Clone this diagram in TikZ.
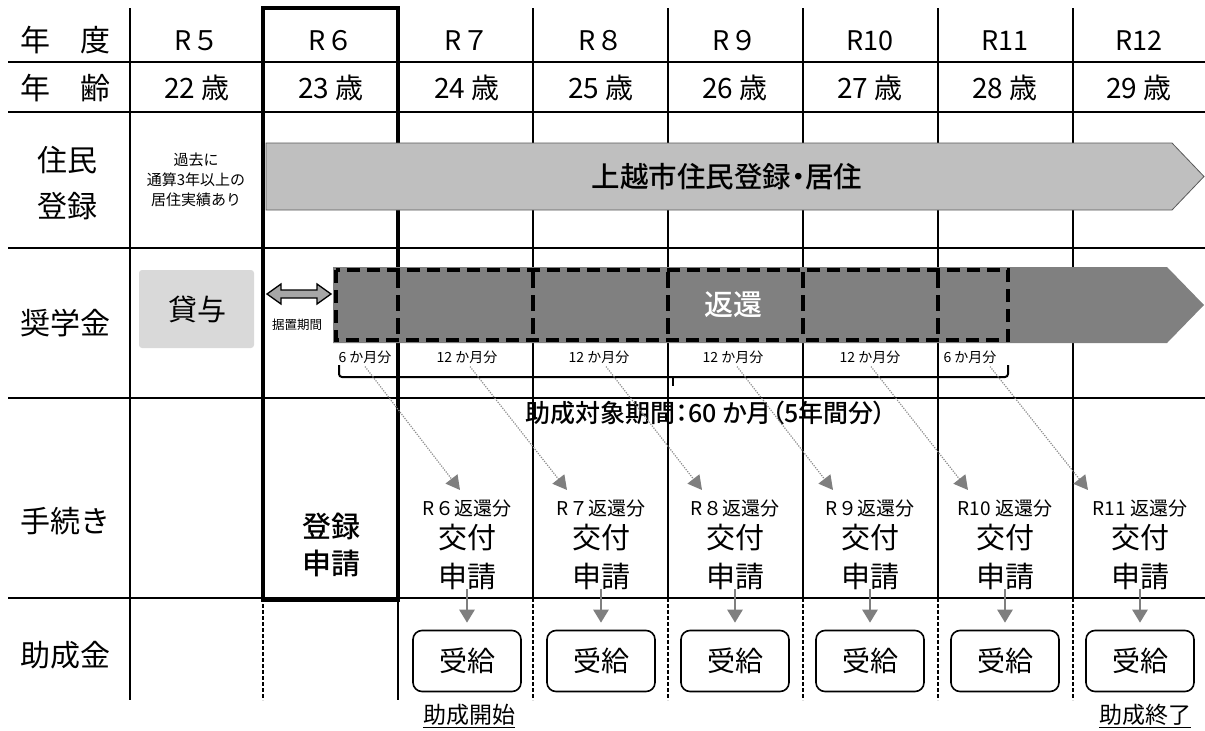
\documentclass[tikz,border=0pt]{standalone}
\usepackage{fontspec}
\setmainfont{Noto Sans CJK JP}[BoldFont={Noto Sans CJK JP Medium}]
\newfontfamily\jpp{Noto Sans CJK JP}[RawFeature=+palt,BoldFont={Noto Sans CJK JP Medium}]
\usetikzlibrary{arrows.meta}
\definecolor{bandgray}{HTML}{BFBFBF}
\definecolor{darkband}{HTML}{808080}
\definecolor{lightbox}{HTML}{D9D9D9}
\definecolor{arrgray}{HTML}{7F7F7F}
\definecolor{dotgray}{HTML}{8C8C8C}
\tikzset{
  txt/.style={inner sep=0pt, align=center},
  rowlbl/.style={txt, font=\fontsize{30}{46}\selectfont},
  hdr/.style={txt, font=\fontsize{27}{30}\selectfont},
  agelbl/.style={txt, font=\fontsize{28}{30}\selectfont},
  smalltxt/.style={txt, font=\fontsize{15}{20}\selectfont},
  monthlbl/.style={txt, font=\fontsize{14}{16}\selectfont},
  paylbl/.style={txt, font=\fontsize{19}{20}\selectfont},
  apply/.style={txt, font=\fontsize{29}{39}\selectfont},
  recv/.style={draw, line width=1.6, rounded corners=9, minimum width=108, minimum height=61, inner sep=0pt, font=\fontsize{28}{30}\selectfont},
  grid/.style={line width=1.8},
  gridd/.style={line width=1.5, dash pattern=on 4pt off 2pt},
  dotarrow/.style={dotgray, line width=1.2, dash pattern=on 1.2pt off 1.3pt, -{Triangle[width=15pt,length=14pt,fill=arrgray,color=arrgray]}},
  downarrow/.style={arrgray, line width=2.6, -{Triangle[width=15pt,length=13pt]}},
}
\begin{document}
\begin{tikzpicture}[x=1pt,y=-1pt]
\path[use as bounding box] (0,0) rectangle (1205,731);
% horizontal grid lines
\foreach \y in {62,112,248,398,598}
  \draw[grid] (8,\y) -- (1205,\y);
% vertical grid lines
\draw[grid] (130,8) -- (130,700);
\foreach \x in {533,668,803,938,1073}{
  \draw[grid] (\x,8) -- (\x,598);
  \draw[gridd] (\x,598) -- (\x,700);
}
\draw[gridd] (263,598) -- (263,700);
\draw[grid] (398,598) -- (398,700);
% thick R6 frame
\draw[line width=4.5] (263,8) rectangle (398,600);

% header texts
\node[rowlbl] (lnd) at (65,40) {年　度};
\node[rowlbl] (lage) at (65,88) {年　齢};
\node[rowlbl] (lres) at (67,183) {住民\\登録};
\node[rowlbl] (lsch) at (65,323) {奨学金};
\node[rowlbl] (lproc) at (65,521) {手続き};
\node[rowlbl] (lgrant) at (65,655) {助成金};
\foreach \x/\t [count=\i] in {197/R５,331/R６,467/R７,601/R８,735/R９,870/R10,1005/R11,1139/R12}
  \node[hdr] (yr\i) at (\x,41) {\t};
\foreach \x/\t [count=\i] in {197/22,331/23,467/24,601/25,735/26,870/27,1005/28,1139/29}
  \node[agelbl] (age\i) at (\x,88) {\t\ 歳};

% residence row
\node[smalltxt] (past) at (196,180) {過去に\\通算3年以上の\\居住実績あり};
\path[fill=bandgray, draw=black!65, line width=0.8] (266,143) -- (1172,143) -- (1204,176.5) -- (1172,210) -- (266,210) -- cycle;
\node[txt, font=\jpp\fontsize{28.5}{30}\selectfont\bfseries] (resband) at (727,177) {上越市住民登録・居住};

% scholarship row
\path[fill=lightbox, rounded corners=3] (139,270) rectangle (254,348);
\node[txt, font=\fontsize{29}{30}\selectfont] (loan) at (197,309) {貸与};
\path[fill=darkband] (333,267) -- (1167,267) -- (1204,305) -- (1167,343) -- (333,343) -- cycle;
\draw[line width=4, dash pattern=on 13pt off 7pt] (336,270) rectangle (1008,340);
\foreach \x in {398,533,668,803,938}
  \draw[line width=4, dash pattern=on 16pt off 7pt] (\x,272) -- (\x,340);
\node[txt, text=white, font=\fontsize{29}{30}\selectfont\bfseries] (repay) at (733,305) {返還};
\path[fill=black!35, draw=black, line width=1.3] (267,294) -- (281,284) -- (281,290) -- (317,290) -- (317,284) -- (331,294) -- (317,304) -- (317,298) -- (281,298) -- (281,304) -- cycle;
\node[txt, font=\fontsize{12.5}{14}\selectfont] (defer) at (297,325) {据置期間};

% month labels
\node[monthlbl] (m1) at (365,357) {6 か月分};
\node[monthlbl] (m2) at (467,357) {12 か月分};
\node[monthlbl] (m3) at (599,357) {12 か月分};
\node[monthlbl] (m4) at (733,357) {12 か月分};
\node[monthlbl] (m5) at (870,357) {12 か月分};
\node[monthlbl] (m6) at (970,357) {6 か月分};
% bracket
\draw[line width=2, rounded corners=3] (339,365) -- (339,377) -- (1008,377) -- (1008,365);
\draw[line width=2] (673,377) -- (673,386);
\node[txt, font=\jpp\fontsize{25}{27}\selectfont\bfseries] (period) at (706,413) {助成対象期間：60 か月（5年間分）};

% procedure row
\node[txt, font=\fontsize{29}{37}\selectfont\bfseries] (reg) at (331,545) {登録\\申請};
\foreach \x/\t [count=\i] in {467/R６,601/R７,735/R８,870/R９,1005/R10\ ,1140/R11\ }{
  \node[paylbl] (a\i) at (\x,508) {\t 返還分};
  \node[apply] (k\i) at (\x,557) {交付\\申請};
  \node[recv] (r\i) at (\x,661) {受給};
}
\coordinate (t1) at (460,490);
\coordinate (t2) at (567,490);
\coordinate (t3) at (702,490);
\coordinate (t4) at (833,490);
\coordinate (t5) at (968,490);
\coordinate (t6) at (1088,490);
\draw[dotarrow] ([yshift=-3pt]m1.south) -- (t1);
\draw[dotarrow] ([xshift=3pt,yshift=-3pt]m2.south) -- (t2);
\draw[dotarrow] ([xshift=7pt,yshift=-3pt]m3.south) -- (t3);
\draw[dotarrow] ([xshift=4pt,yshift=-3pt]m4.south) -- (t4);
\draw[dotarrow] ([xshift=1pt,yshift=-3pt]m5.south) -- (t5);
\draw[dotarrow] ([xshift=20pt,yshift=-3pt]m6.south) -- (t6);
\foreach \i in {1,...,6}
  \draw[downarrow] ([yshift=1pt]k\i.south) -- ([yshift=7pt]r\i.north);

% bottom labels
\node[txt, font=\fontsize{23}{26}\selectfont] (start) at (469,716) {\underline{助成開始}};
\node[txt, font=\fontsize{23}{26}\selectfont] (finish) at (1145,716) {\underline{助成終了}};
\end{tikzpicture}
\end{document}
